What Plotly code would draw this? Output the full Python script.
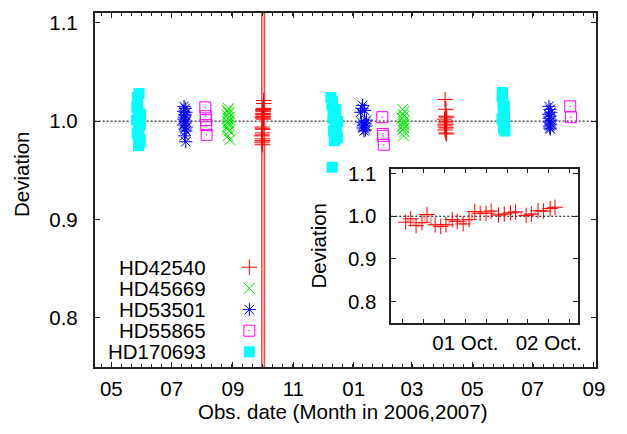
import plotly.graph_objects as go

FONT = "Liberation Sans, Arial, Helvetica, sans-serif"
FS = 20.5

# ---------------- observations ----------------
# HD42540 (+): continuous run 30 Sep - 2 Oct 2006 (also shown in the inset)
hd42540_run1_time = [
    "2006-09-30 06:48", "2006-09-30 08:15", "2006-09-30 09:48", "2006-09-30 11:30",
    "2006-09-30 12:57", "2006-09-30 15:18", "2006-09-30 16:54", "2006-09-30 18:24",
    "2006-09-30 20:12", "2006-09-30 21:39", "2006-09-30 23:21", "2006-10-01 01:03",
    "2006-10-01 02:42", "2006-10-01 04:15", "2006-10-01 05:57", "2006-10-01 07:24",
    "2006-10-01 09:33", "2006-10-01 11:12", "2006-10-01 13:00", "2006-10-01 14:27",
    "2006-10-01 17:30", "2006-10-01 19:00", "2006-10-01 20:54", "2006-10-01 22:30",
    "2006-10-02 00:24", "2006-10-02 01:48",
]
hd42540_run1_dev = [
    0.986, 0.994, 0.978, 0.985, 1.004, 0.980, 0.976, 0.980, 0.992, 0.988,
    0.982, 0.992, 1.011, 1.007, 1.007, 1.012, 1.003, 1.005, 1.008, 1.010,
    1.002, 1.005, 1.013, 1.012, 1.018, 1.021,
]
# HD42540: second run, April 2007
hd42540_run2_time = [
    "2007-04-03 00:00", "2007-04-03 04:00", "2007-04-03 08:00", "2007-04-03 12:00",
    "2007-04-03 16:00", "2007-04-03 20:00", "2007-04-04 00:00", "2007-04-04 04:00",
    "2007-04-04 08:00", "2007-04-04 12:00", "2007-04-04 16:00", "2007-04-04 20:00",
    "2007-04-05 00:00", "2007-04-05 04:00",
]
hd42540_run2_dev = [
    1.002, 0.996, 0.991, 1.022, 0.999, 0.994, 1.005, 0.988,
    1.012, 0.997, 0.993, 1.000, 0.987, 1.004,
]

# HD45669 (x)
hd45669_time = [
    "2006-08-26 00:00", "2006-08-26 06:00", "2006-08-26 12:00", "2006-08-26 18:00",
    "2006-08-27 00:00", "2006-08-27 06:00", "2006-08-27 12:00", "2006-08-27 18:00",
    "2006-08-28 00:00", "2006-08-28 06:00", "2006-08-28 12:00", "2006-08-28 18:00",
    "2006-08-27 03:00", "2006-08-27 15:00", "2006-08-26 09:00", "2006-08-28 09:00",
    "2007-02-19 00:00", "2007-02-19 06:00", "2007-02-19 12:00", "2007-02-19 18:00",
    "2007-02-20 00:00", "2007-02-20 06:00", "2007-02-20 12:00", "2007-02-20 18:00",
    "2007-02-21 00:00", "2007-02-21 06:00", "2007-02-21 12:00", "2007-02-20 09:00",
    "2007-02-20 15:00",
]
hd45669_dev = [
    1.006, 0.994, 1.011, 0.999, 0.985, 1.003, 1.013, 0.996,
    1.008, 0.990, 1.001, 0.981, 1.009, 0.998, 0.992, 1.004,
    1.003, 0.995, 1.012, 0.991, 1.007, 0.998, 0.985, 1.005,
    0.993, 1.010, 0.989, 1.000, 0.996,
]

# HD53501 (*)
hd53501_time = [
    "2006-07-13 00:00", "2006-07-13 06:00", "2006-07-13 12:00", "2006-07-13 18:00",
    "2006-07-14 00:00", "2006-07-14 06:00", "2006-07-14 12:00", "2006-07-14 18:00",
    "2006-07-15 00:00", "2006-07-15 06:00", "2006-07-15 12:00", "2006-07-15 18:00",
    "2006-07-13 09:00", "2006-07-14 09:00", "2006-07-14 15:00", "2006-07-15 09:00",
    "2007-01-08 00:00", "2007-01-09 00:00", "2007-01-10 00:00", "2007-01-11 00:00",
    "2007-01-12 00:00", "2007-01-13 00:00", "2007-01-14 00:00", "2007-01-09 12:00",
    "2007-01-10 12:00", "2007-01-11 12:00", "2007-01-12 12:00", "2007-01-13 12:00",
    "2007-07-17 12:00", "2007-07-18 00:00", "2007-07-18 12:00", "2007-07-19 00:00",
    "2007-07-19 12:00", "2007-07-17 18:00", "2007-07-18 06:00", "2007-07-18 18:00",
    "2007-07-19 06:00", "2007-07-17 06:00", "2007-07-19 18:00", "2007-07-18 09:00",
]
hd53501_dev = [
    1.010, 0.996, 1.015, 1.004, 0.985, 1.007, 0.992, 1.013,
    1.000, 0.979, 1.009, 0.994, 1.002, 0.998, 1.006, 0.990,
    1.009, 0.999, 1.016, 0.996, 1.011, 0.991, 1.001, 1.013,
    0.993, 0.990, 0.998, 0.995,
    1.015, 0.999, 1.005, 0.992, 1.009, 1.003, 0.995, 1.012,
    0.997, 1.007, 1.001, 0.993,
]

# HD55865 (open square)
hd55865_time = [
    "2006-08-04 00:00", "2006-08-04 08:00", "2006-08-04 16:00", "2006-08-05 00:00",
    "2006-08-05 08:00",
    "2007-01-30 00:00", "2007-01-30 12:00", "2007-01-31 00:00", "2007-01-31 12:00",
    "2007-08-08 00:00", "2007-08-08 18:00",
]
hd55865_dev = [
    1.014, 1.005, 1.001, 0.996, 0.986,
    1.004, 0.987, 0.985, 0.976,
    1.015, 1.004,
]

# HD170693 (filled square)
hd170693_time = [
    "2006-05-26 12:00", "2006-05-27 00:00", "2006-05-27 12:00", "2006-05-28 00:00",
    "2006-05-28 12:00", "2006-05-29 00:00", "2006-05-29 12:00", "2006-05-30 00:00",
    "2006-05-30 12:00", "2006-05-27 06:00", "2006-05-28 06:00", "2006-05-29 06:00",
    "2006-05-30 06:00", "2006-05-28 18:00", "2006-05-26 18:00", "2006-05-29 18:00",
    "2006-12-09 00:00", "2006-12-10 00:00", "2006-12-11 00:00", "2006-12-12 00:00",
    "2006-12-13 00:00", "2006-12-14 00:00", "2006-12-15 00:00", "2006-12-16 00:00",
    "2006-12-10 12:00", "2006-12-11 12:00", "2006-12-12 12:00", "2006-12-13 12:00",
    "2006-12-14 12:00", "2006-12-15 12:00", "2006-12-10 06:00",
    "2007-05-31 00:00", "2007-05-31 12:00", "2007-06-01 00:00", "2007-06-01 12:00",
    "2007-06-02 00:00", "2007-06-02 12:00", "2007-06-03 00:00", "2007-05-31 06:00",
    "2007-06-01 06:00", "2007-06-01 18:00", "2007-06-02 06:00", "2007-06-02 18:00",
]
hd170693_dev = [
    1.001, 0.988, 1.018, 1.011, 0.975, 1.028, 0.995, 0.981, 1.007,
    1.024, 0.985, 1.004, 0.998, 0.991, 1.014, 0.978,
    1.024, 1.016, 1.003, 1.009, 0.994, 1.012, 0.986, 1.000,
    1.020, 0.990, 0.980, 1.006, 0.997, 0.983, 0.953,
    1.002, 1.029, 1.019, 0.993, 1.012, 1.005, 0.990, 1.025,
    1.008, 0.999, 1.015, 0.996,
]

stars = ["HD42540", "HD45669", "HD53501", "HD55865", "HD170693"]
colors = ["#ff0000", "#00ee00", "#0000ff", "#ff00ff", "#00ffff"]
symbols = ["cross-thin-open", "x-thin-open", "asterisk-open", "square-open-dot", "square"]

# shaded window marking the continuous HD42540 run zoomed in the inset
window = ["2006-09-30 00:00", "2006-10-03 00:00"]

main_range = ["2006-04-14 02:00", "2007-09-03 10:00"]
inset_range = ["2006-09-30 02:40", "2006-10-02 08:18"]
y_range = [0.75, 1.11]
y_ticks = [0.8, 0.9, 1.0, 1.1]

fig = go.Figure()

def marker(i, size=11):
    filled = symbols[i] == "square"
    return dict(symbol=symbols[i], size=size, color=colors[i],
                line=dict(color=colors[i], width=1 if not filled else 0))

step_color = "rgba(255,60,60,0.45)"

# main panel
for t, d in [(hd42540_run1_time, hd42540_run1_dev), (hd42540_run2_time, hd42540_run2_dev)]:
    fig.add_trace(go.Scatter(x=t, y=d, mode="lines", line=dict(color=step_color, width=2, shape="hvh"),
                             hoverinfo="skip", showlegend=False))
series = [
    (hd42540_run1_time + hd42540_run2_time, hd42540_run1_dev + hd42540_run2_dev),
    (hd45669_time, hd45669_dev),
    (hd53501_time, hd53501_dev),
    (hd55865_time, hd55865_dev),
    (hd170693_time, hd170693_dev),
]
for i in [4, 2, 3, 1, 0]:
    t, d = series[i]
    fig.add_trace(go.Scatter(x=t, y=d, mode="markers", name=stars[i], marker=marker(i),
                             showlegend=False))

# inset panel
fig.add_trace(go.Scatter(x=hd42540_run1_time, y=hd42540_run1_dev, mode="lines+markers",
                         line=dict(color=step_color, width=2, shape="hvh"),
                         marker=marker(0, 11), xaxis="x2", yaxis="y2", showlegend=False))

# key: star name followed by its symbol
key_x = 253 / 627
key_rows = [264.5, 286, 307.5, 329, 350.5]
for i, name in enumerate(stars):
    yk = 1 - key_rows[i] / 434
    fig.add_trace(go.Scatter(x=[key_x], y=[yk], mode="markers", marker=marker(i, 11),
                             xaxis="x3", yaxis="y3", showlegend=False, hoverinfo="skip"))
    fig.add_annotation(x=211 / 627, y=yk, xref="paper", yref="paper", text=name,
                       showarrow=False, xanchor="right", yanchor="middle",
                       font=dict(family=FONT, size=FS, color="black"))

axis_common = dict(showline=True, mirror="ticks", linecolor="#222", linewidth=1.5,
                   ticks="inside", tickcolor="#222", showgrid=False, zeroline=False,
                   tickfont=dict(family=FONT, size=FS, color="black"))

inset_ticks = ["2006-09-30 06:00", "2006-09-30 12:00", "2006-09-30 18:00", "2006-10-01 00:00",
               "2006-10-01 06:00", "2006-10-01 12:00", "2006-10-01 18:00", "2006-10-02 00:00",
               "2006-10-02 06:00"]
inset_text = ["", "", "", "01 Oct.", "", "", "", "02 Oct.", ""]

fig.update_layout(
    width=627, height=434, margin=dict(l=0, r=0, t=0, b=0),
    paper_bgcolor="white", plot_bgcolor="rgba(0,0,0,0)",
    font=dict(family=FONT, size=FS, color="black"),
    xaxis=dict(axis_common, type="date", domain=[96 / 627, 605 / 627], anchor="y",
               range=main_range, tickmode="linear", tick0="2006-05-01", dtick="M2",
               tickformat="%m", ticklen=5, ticklabelstandoff=3,
               minor=dict(ticks="inside", ticklen=3, tickcolor="#222",
                          tick0="2006-05-01", dtick=878400000)),
    yaxis=dict(axis_common, domain=[(434 - 366) / 434, (434 - 6) / 434], anchor="x",
               range=y_range, tickvals=y_ticks, ticktext=[f"{v:.1f}" for v in y_ticks],
               ticklen=6, ticklabelstandoff=11),
    xaxis2=dict(axis_common, type="date", domain=[397 / 627, 586 / 627], anchor="y2",
                range=inset_range, tickmode="array", tickvals=inset_ticks, ticktext=inset_text,
                ticklen=4, ticklabelstandoff=1),
    yaxis2=dict(axis_common, domain=[(434 - 321) / 434, (434 - 165) / 434], anchor="x2",
                range=y_range, tickvals=y_ticks, ticktext=[f"{v:.1f}" for v in y_ticks],
                ticklen=5, ticklabelstandoff=9),
    xaxis3=dict(domain=[0, 1], range=[0, 1], visible=False, anchor="y3"),
    yaxis3=dict(domain=[0, 1], range=[0, 1], visible=False, anchor="x3"),
)

# reference level and observing window
fig.add_shape(type="line", xref="x domain", yref="y", x0=0, x1=1, y0=1.0, y1=1.0,
              line=dict(color="black", width=1, dash="2px,2px"), layer="below")
fig.add_shape(type="line", xref="x2 domain", yref="y2", x0=0, x1=1, y0=1.0, y1=1.0,
              line=dict(color="black", width=1, dash="2px,2px"), layer="below")
fig.add_shape(type="rect", xref="x", yref="y domain", x0=window[0], x1=window[1], y0=0, y1=1,
              fillcolor="rgba(255,80,80,0.45)", line=dict(color="rgba(235,40,40,0.8)", width=1.2),
              layer="below")

# axis titles
fig.add_annotation(x=347 / 627, y=1 - 411 / 434, xref="paper", yref="paper",
                   text="Obs. date (Month in 2006,2007)", showarrow=False,
                   xanchor="center", yanchor="middle", font=dict(family=FONT, size=FS))
fig.add_annotation(x=22 / 627, y=1 - 170 / 434, xref="paper", yref="paper", text="Deviation",
                   textangle=-90, showarrow=False, xanchor="center", yanchor="middle",
                   font=dict(family=FONT, size=FS))
fig.add_annotation(x=323 / 627, y=1 - 243 / 434, xref="paper", yref="paper", text="Deviation",
                   textangle=-90, showarrow=False, xanchor="center", yanchor="middle",
                   font=dict(family=FONT, size=FS))

fig.write_html("out.html")
